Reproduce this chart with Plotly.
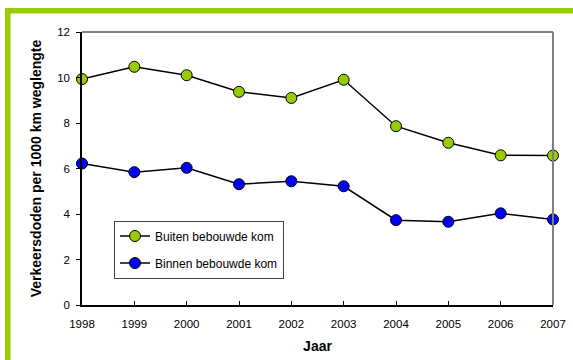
import plotly.graph_objects as go

years = [1998, 1999, 2000, 2001, 2002, 2003, 2004, 2005, 2006, 2007]
buiten = [9.93, 10.47, 10.1, 9.37, 9.1, 9.9, 7.86, 7.13, 6.58, 6.57]
binnen = [6.22, 5.84, 6.03, 5.31, 5.44, 5.22, 3.73, 3.66, 4.03, 3.76]
y_ticks = [0, 2, 4, 6, 8, 10, 12]

W, H = 573, 360
L, R, T, B = 82, 20, 32, 55
pw = W - L - R
ph = H - T - B

def px(x):
    return (x - L) / pw

def py(y):
    return (H - B - y) / ph

fig = go.Figure()
fig.add_trace(go.Scatter(
    x=years, y=buiten, mode="lines+markers", name="Buiten bebouwde kom",
    line=dict(color="black", width=1.5),
    marker=dict(color="#99cc00", size=11, line=dict(color="black", width=1)),
    cliponaxis=False, legendgroup="a"))
fig.add_trace(go.Scatter(
    x=years, y=binnen, mode="lines+markers", name="Binnen bebouwde kom",
    line=dict(color="black", width=1.5),
    marker=dict(color="#0000ff", size=11, line=dict(color="black", width=1)),
    cliponaxis=False, legendgroup="b"))

green = "#99cc00"
fig.add_shape(type="rect", xref="paper", yref="paper",
              x0=px(5), x1=px(580), y0=py(13.5), y1=py(8),
              fillcolor=green, line=dict(width=0), layer="above")
fig.add_shape(type="rect", xref="paper", yref="paper",
              x0=px(5), x1=px(10.5), y0=py(365), y1=py(8),
              fillcolor=green, line=dict(width=0), layer="above")
# plot frame: top black, right gray
fig.add_shape(type="line", xref="paper", yref="paper", x0=0, x1=1, y0=1, y1=1,
              line=dict(color="black", width=1))
fig.add_shape(type="line", xref="paper", yref="paper", x0=1, x1=1, y0=0, y1=1,
              line=dict(color="#808080", width=2))

fig.update_layout(
    width=W, height=H,
    margin=dict(l=L, r=R, t=T, b=B),
    paper_bgcolor="white", plot_bgcolor="white",
    font=dict(family="Liberation Sans, Arial", size=11.5, color="black"),
    showlegend=True,
    legend=dict(x=px(114), y=py(220.5), xanchor="left", yanchor="top",
                bgcolor="white", bordercolor="#404040", borderwidth=1,
                font=dict(size=12), tracegroupgap=8, traceorder="grouped",
                itemwidth=30),
    xaxis=dict(range=[1998, 2007], tickmode="array", tickvals=years,
               ticktext=[str(y) for y in years],
               showgrid=False, zeroline=False, showline=True,
               linecolor="black", linewidth=1.5,
               ticks="inside", ticklen=4, tickcolor="black",
               ticklabelstandoff=7, automargin=False,
               title=dict(text="<b>Jaar</b>", font=dict(size=14), standoff=13)),
    yaxis=dict(range=[0, 12], tickmode="array", tickvals=y_ticks,
               showgrid=False, zeroline=False, showline=True,
               linecolor="black", linewidth=1.5,
               ticks="outside", ticklen=4, tickcolor="black",
               ticklabelstandoff=4, automargin=False,
               title=dict(text="<b>Verkeersdoden per 1000 km weglengte</b>",
                          font=dict(size=14), standoff=12)),
)

fig.write_html("out.html")
